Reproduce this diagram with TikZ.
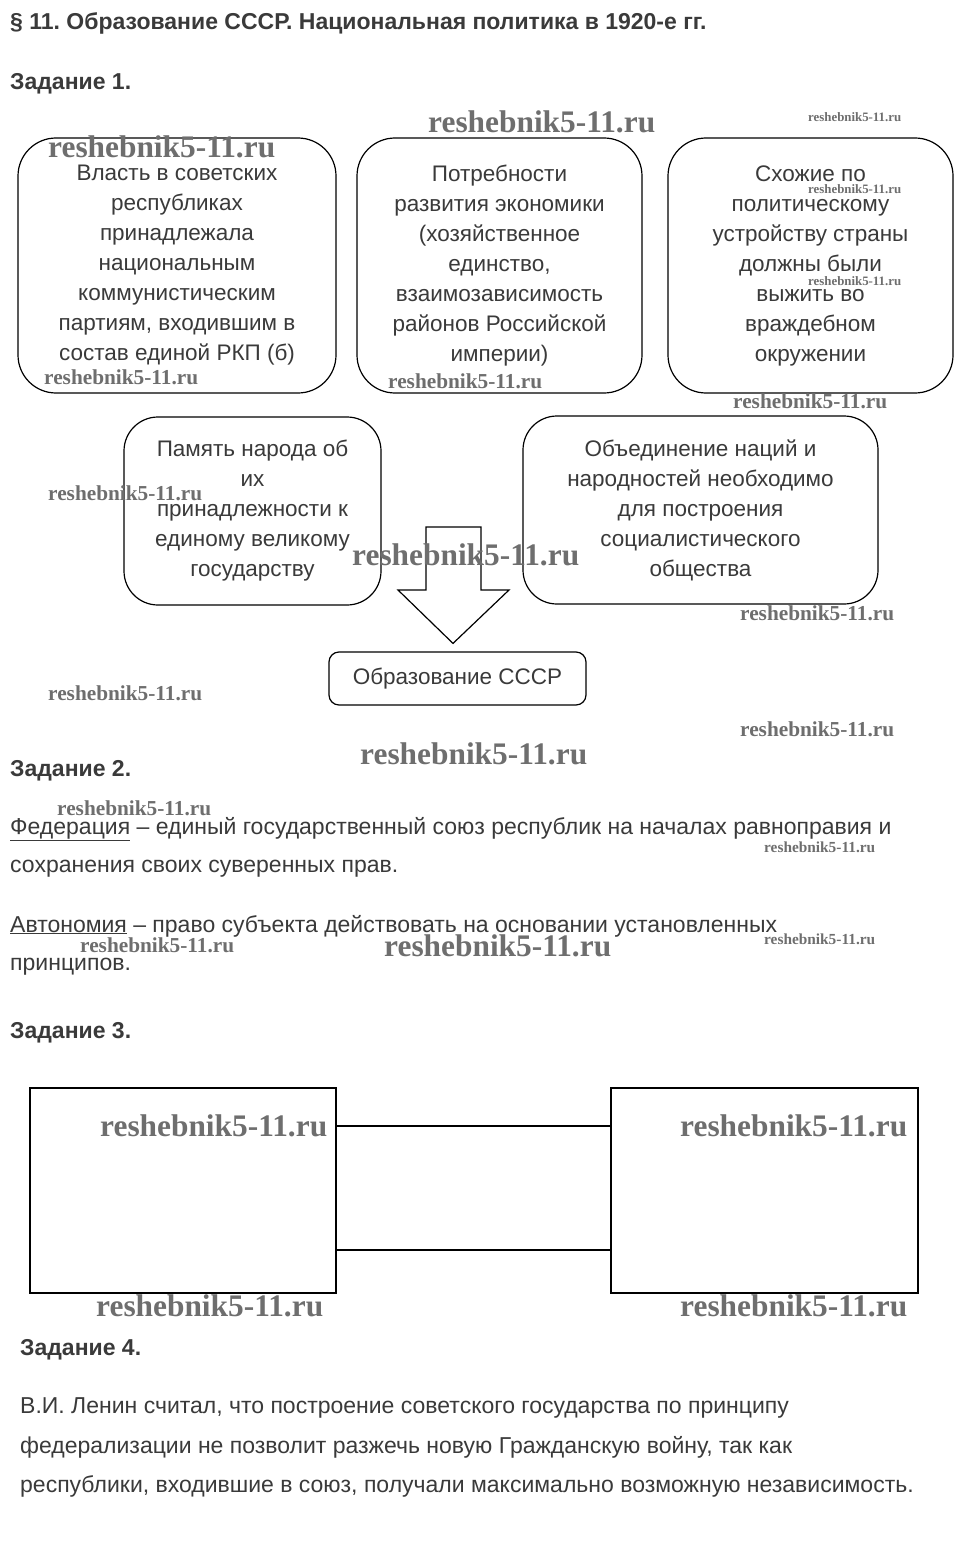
\documentclass[tikz,border=0pt]{standalone}
\usepackage{fontspec}
\setmainfont{Liberation Sans}
\newfontfamily\wmfont{Liberation Serif}
\definecolor{txt}{HTML}{3A3A3A}
\definecolor{wmc}{HTML}{6E6E6E}
\newcommand\wmtext{\wmfont\bfseries reshebnik5-11.ru}
\frenchspacing
\begin{document}
\begin{tikzpicture}[x=1pt,y=-1pt,
  rbox/.style={draw=black, line width=1.2pt, rounded corners=38pt, align=center,
    font=\fontsize{22.5}{30}\selectfont, text=txt, inner sep=0pt},
  sbox/.style={draw=black, line width=1.2pt, rounded corners=10pt, align=center,
    font=\fontsize{22.5}{30}\selectfont, text=txt, inner sep=0pt},
  qbox/.style={draw=black, line width=1.7pt, inner sep=0pt},
  head/.style={anchor=base west, font=\fontsize{23}{26}\selectfont\bfseries, text=txt, inner sep=0pt},
  body/.style={anchor=base west, font=\fontsize{23}{27}\selectfont, text=txt, inner sep=0pt},
  wm/.style={anchor=west, text=wmc, inner sep=0pt},
  blockarrow/.style={draw=black, line width=1.2pt, fill=white}
]
\useasboundingbox (0,0) rectangle (959,1546);
\fill[white] (0,0) rectangle (959,1546);

% Title and headings
\node[head] (title) at (10,30) {§ 11. Образование СССР. Национальная политика в 1920-е гг.};
\node[head] (z1) at (10,90) {Задание 1.};

% Task 1 boxes
\node[rbox, minimum width=318pt, minimum height=255pt] (b1) at (177,265.5)
  {Власть в советских\\республиках\\принадлежала\\национальным\\коммунистическим\\партиям, входившим в\\состав единой РКП (б)};
\node[rbox, minimum width=285pt, minimum height=255pt] (b2) at (499.5,265.5)
  {Потребности\\развития экономики\\(хозяйственное\\единство,\\взаимозависимость\\районов Российской\\империи)};
\node[rbox, minimum width=285pt, minimum height=255pt] (b3) at (810.5,265.5)
  {Схожие по\\политическому\\устройству страны\\должны были\\выжить во\\враждебном\\окружении};
\node[rbox, rounded corners=34pt, minimum width=257pt, minimum height=188pt] (b4) at (252.5,511)
  {Память народа об\\их\\принадлежности к\\единому великому\\государству};
\node[rbox, rounded corners=34pt, minimum width=355pt, minimum height=188pt] (b5) at (700.5,510)
  {Объединение наций и\\народностей необходимо\\для построения\\социалистического\\общества};
\node[sbox, minimum width=257pt, minimum height=53pt] (b6) at (457.5,678.5) {Образование СССР};

% block arrow
\draw[blockarrow] (426,527) -- (481,527) -- (481,590) -- (509,590) -- ([xshift=-4.5pt,yshift=8pt]b6.north)
  -- (398,590) -- (426,590) -- cycle;

% Task 2
\node[head] (z2) at (10,776) {Задание 2.};
\node[body] (f1) at (10,834) {\underline{Федерация} – единый государственный союз республик на началах равноправия и};
\node[body] (f2) at (10,872) {сохранения своих суверенных прав.};
\node[body] (a1) at (10,932) {\underline{Автономия} – право субъекта действовать на основании установленных};
\node[body] (a2) at (10,970) {принципов.};

% Task 3
\node[head] (z3) at (10,1038) {Задание 3.};
\node[qbox, minimum width=306pt, minimum height=205pt] (L) at (183,1190.5) {};
\node[qbox, minimum width=307pt, minimum height=205pt] (R) at (764.5,1190.5) {};
\coordinate (ya) at (0,1126);
\coordinate (yb) at (0,1250);
\draw[line width=1.7pt] (L.east |- ya) -- (R.west |- ya);
\draw[line width=1.7pt] (L.east |- yb) -- (R.west |- yb);

% Task 4
\node[head] (z4) at (20,1355) {Задание 4.};
\node[body] (p1) at (20,1413) {В.И. Ленин считал, что построение советского государства по принципу};
\node[body] (p2) at (20,1453) {федерализации не позволит разжечь новую Гражданскую войну, так как};
\node[body] (p3) at (20,1492) {республики, входившие в союз, получали максимально возможную независимость.};

% watermarks
\node[wm] (w1) at (428,122) {\resizebox{227pt}{!}{\wmtext}};
\node[wm] (w2) at (808,117) {\resizebox{93pt}{!}{\wmtext}};
\node[wm] (w3) at (48,147) {\resizebox{227pt}{!}{\wmtext}};
\node[wm] (w4) at (808,189) {\resizebox{93pt}{!}{\wmtext}};
\node[wm] (w5) at (808,281) {\resizebox{93pt}{!}{\wmtext}};
\node[wm] (w6) at (44,377) {\resizebox{154pt}{!}{\wmtext}};
\node[wm] (w7) at (388,381) {\resizebox{154pt}{!}{\wmtext}};
\node[wm] (w8) at (733,401) {\resizebox{154pt}{!}{\wmtext}};
\node[wm] (w9) at (48,493) {\resizebox{154pt}{!}{\wmtext}};
\node[wm] (w10) at (352,555) {\resizebox{227pt}{!}{\wmtext}};
\node[wm] (w11) at (740,613) {\resizebox{154pt}{!}{\wmtext}};
\node[wm] (w12) at (48,693) {\resizebox{154pt}{!}{\wmtext}};
\node[wm] (w13) at (740,729) {\resizebox{154pt}{!}{\wmtext}};
\node[wm] (w14) at (360,754) {\resizebox{227pt}{!}{\wmtext}};
\node[wm] (w15) at (57,808) {\resizebox{154pt}{!}{\wmtext}};
\node[wm] (w16) at (764,847) {\resizebox{111pt}{!}{\wmtext}};
\node[wm] (w17) at (80,945) {\resizebox{154pt}{!}{\wmtext}};
\node[wm] (w18) at (384,946) {\resizebox{227pt}{!}{\wmtext}};
\node[wm] (w19) at (764,939) {\resizebox{111pt}{!}{\wmtext}};
\node[wm] (w20) at (100,1126) {\resizebox{227pt}{!}{\wmtext}};
\node[wm] (w21) at (680,1126) {\resizebox{227pt}{!}{\wmtext}};
\node[wm] (w22) at (96,1306) {\resizebox{227pt}{!}{\wmtext}};
\node[wm] (w23) at (680,1306) {\resizebox{227pt}{!}{\wmtext}};
\end{tikzpicture}
\end{document}
